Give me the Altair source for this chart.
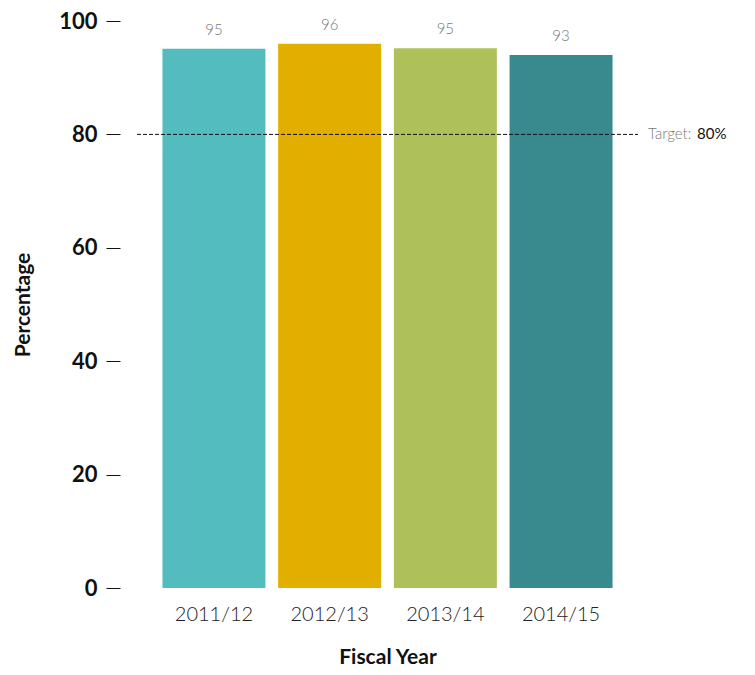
import altair as alt
import pandas as pd

years = ["2011/12", "2012/13", "2013/14", "2014/15"]
values = [95.1, 96.0, 95.2, 94.0]
labels = ["95", "96", "95", "93"]
colors = ["#52BCBE", "#E2AF00", "#ADC05A", "#388A8F"]
target = 80

df = pd.DataFrame({"year": years, "value": values, "label": labels})
tdf = pd.DataFrame({"target": [target], "t1": ["Target:"], "t2": [f"{target}%"]})

W, H = 501, 567
FONT = "Lato"

x = alt.X("year:N", sort=years, title="Fiscal Year",
          scale=alt.Scale(paddingInner=0.11, paddingOuter=0.22),
          axis=alt.Axis(labelAngle=0, domain=False, ticks=False, labelPadding=16,
                        labelFontSize=20, labelFont=FONT, labelFontWeight=300,
                        labelColor="#222", titleFontSize=21, titleFont=FONT,
                        titleFontWeight="bold", titleColor="#111", titlePadding=22))
y = alt.Y("value:Q", title="Percentage", scale=alt.Scale(domain=[0, 100]),
          axis=alt.Axis(values=[0, 20, 40, 60, 80, 100], domain=False, grid=False,
                        tickSize=14, tickColor="#111", offset=17, labelPadding=9,
                        labelFontSize=22, labelFont=FONT, labelFontWeight="bold",
                        labelColor="#111", titleFontSize=21, titleFont=FONT,
                        titleFontWeight="bold", titleColor="#111", titlePadding=25))

bars = alt.Chart(df).mark_bar().encode(
    x=x, y=y,
    color=alt.Color("year:N", scale=alt.Scale(domain=years, range=colors), legend=None),
)
text = alt.Chart(df).mark_text(dy=-19, fontSize=15, font=FONT, fontWeight=300,
                               color="#777").encode(
    x=alt.X("year:N", sort=years), y="value:Q", text="label:N")

rule = alt.Chart(tdf).mark_rule(strokeDash=[4, 2], color="#111", strokeWidth=1).encode(
    y="target:Q", x=alt.value(0), x2=alt.value(W))
t1 = alt.Chart(tdf).mark_text(align="left", fontSize=15, font=FONT, fontWeight=300,
                              color="#777").encode(
    y="target:Q", x=alt.value(W + 10), text="t1:N")
t2 = alt.Chart(tdf).mark_text(align="left", fontSize=15, font=FONT, fontWeight="normal",
                              color="#111").encode(
    y="target:Q", x=alt.value(W + 59), text="t2:N")

chart = alt.layer(bars, text, rule, t1, t2).properties(
    width=W, height=H,
    autosize=alt.AutoSizeParams(type="none"),
    padding={"left": 129, "top": 13, "right": 109, "bottom": 79},
).configure_view(stroke=None)

chart.save("out.html", embed_options={"renderer": "svg", "actions": False})
